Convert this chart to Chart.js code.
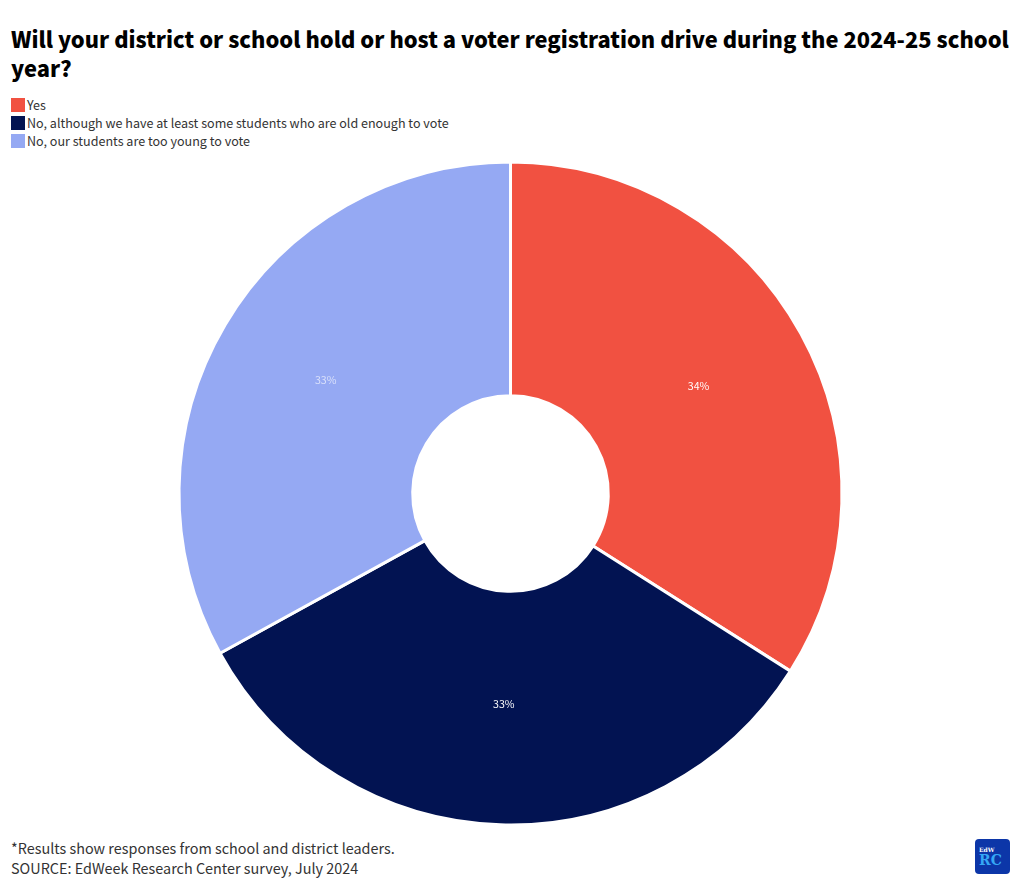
<!DOCTYPE html>
<html><head><meta charset="utf-8">
<script src="https://cdn.jsdelivr.net/npm/chart.js@4"></script>
<style>
html,body{margin:0;padding:0;background:#fff;width:1020px;height:888px;overflow:hidden;font-family:"Noto Sans CJK SC","Noto Sans",sans-serif;color:#333}
#title{position:absolute;left:11px;top:24px;white-space:nowrap;font-size:21.83px;line-height:29px;font-weight:900;color:#000}
#legend{position:absolute;left:11px;top:96px;font-size:12.55px;line-height:18px}
#legend div{height:18px;white-space:nowrap;display:flex;align-items:center}
#legend i{display:inline-block;width:14px;height:14px;margin-right:2px}
#wrap{position:absolute;left:167px;top:150px;width:687px;height:687px}
#foot{position:absolute;left:11px;top:838px;font-size:14.4px;line-height:20px}
#logo{position:absolute;left:975px;top:839px;width:35px;height:35px;border-radius:4px;background:#0c36a8;color:#35a8f5;font-family:"DejaVu Serif",serif;line-height:1}
#logo b{position:absolute;left:4px;top:8px;font-size:6px;color:#fff}
#logo span{position:absolute;left:4px;top:14px;font-size:14px;font-weight:700}
</style></head>
<body>
<div id="title"></div>
<div id="legend"></div>
<div id="wrap"><canvas id="c"></canvas></div>
<div id="foot"></div>
<div id="logo"><b>EdW</b><span>RC</span></div>
<script>
const titleLines = ["Will your district or school hold or host a voter registration drive during the 2024-25 school","year?"];
const categories = ["Yes","No, although we have at least some students who are old enough to vote","No, our students are too young to vote"];
const values = [34,33,33];
const colors = ["#F15141","#021352","#95A9F3"];
const labelColors = ["#ffffff","#ffffff","rgba(255,255,255,0.65)"];
const footLines = ["*Results show responses from school and district leaders.","SOURCE: EdWeek Research Center survey, July 2024"];

document.getElementById('title').innerHTML = titleLines.join('<br>');
document.getElementById('foot').innerHTML = footLines.join('<br>');
document.getElementById('legend').innerHTML = categories.map((c,i)=>`<div><i style="background:${colors[i]}"></i>${c}</div>`).join('');

const sliceLabels = {
  id:'sliceLabels',
  afterDatasetsDraw(chart){
    const ctx = chart.ctx;
    ctx.save();
    ctx.font = '10.6px "Noto Sans CJK SC","Noto Sans",sans-serif';
    ctx.textAlign='center'; ctx.textBaseline='middle';
    chart.getDatasetMeta(0).data.forEach((arc,i)=>{
      const p = arc.getCenterPoint();
      ctx.fillStyle = labelColors[i];
      ctx.fillText(values[i]+'%', p.x, p.y-4);
    });
    ctx.restore();
  }
};
new Chart(document.getElementById('c'),{
  type:'doughnut',
  data:{labels:categories,datasets:[{data:values,backgroundColor:colors,borderColor:'#fff',borderWidth:3,borderAlign:'center'}]},
  options:{responsive:true,maintainAspectRatio:false,animation:false,cutout:'29.5%',
    layout:{padding:10.5},
    plugins:{legend:{display:false},tooltip:{enabled:false}}},
  plugins:[sliceLabels]
});
</script>
</body></html>
